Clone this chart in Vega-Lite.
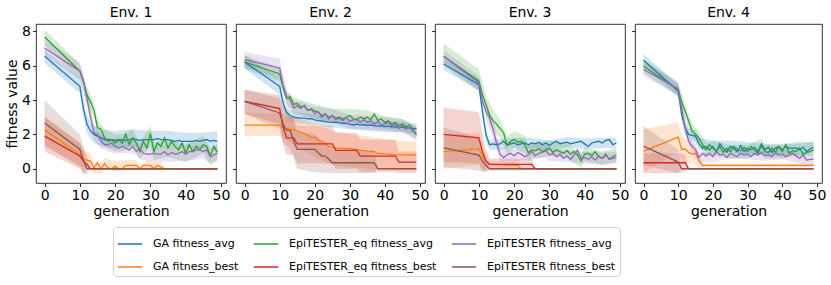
{
"$schema": "https://vega.github.io/schema/vega-lite/v6.json",
"padding": {"left": 5, "top": 5, "right": 5, "bottom": 5},
"bounds": "flush",
"datasets": {
"L": [
{"e":1,"s":"GAa","x":0,"y":6.55},{"e":1,"s":"GAa","x":10,"y":4.8},{"e":1,"s":"GAa","x":11,"y":3.5},{"e":1,"s":"GAa","x":12,"y":2.6},{"e":1,"s":"GAa","x":13,"y":2.2},{"e":1,"s":"GAa","x":14,"y":2.0},{"e":1,"s":"GAa","x":15,"y":1.9},{"e":1,"s":"GAa","x":16,"y":1.8},{"e":1,"s":"GAa","x":17,"y":1.7},{"e":1,"s":"GAa","x":18,"y":1.7},{"e":1,"s":"GAa","x":19,"y":1.7},{"e":1,"s":"GAa","x":20,"y":1.65},{"e":1,"s":"GAa","x":21,"y":1.7},{"e":1,"s":"GAa","x":22,"y":1.7},{"e":1,"s":"GAa","x":23,"y":1.65},{"e":1,"s":"GAa","x":24,"y":1.7},{"e":1,"s":"GAa","x":25,"y":1.75},{"e":1,"s":"GAa","x":26,"y":1.7},{"e":1,"s":"GAa","x":27,"y":1.65},{"e":1,"s":"GAa","x":28,"y":1.7},{"e":1,"s":"GAa","x":29,"y":1.7},{"e":1,"s":"GAa","x":30,"y":1.7},{"e":1,"s":"GAa","x":31,"y":1.7},{"e":1,"s":"GAa","x":32,"y":1.75},{"e":1,"s":"GAa","x":33,"y":1.7},{"e":1,"s":"GAa","x":34,"y":1.7},{"e":1,"s":"GAa","x":35,"y":1.7},{"e":1,"s":"GAa","x":36,"y":1.65},{"e":1,"s":"GAa","x":37,"y":1.6},{"e":1,"s":"GAa","x":38,"y":1.65},{"e":1,"s":"GAa","x":39,"y":1.6},{"e":1,"s":"GAa","x":40,"y":1.6},{"e":1,"s":"GAa","x":41,"y":1.6},{"e":1,"s":"GAa","x":42,"y":1.6},{"e":1,"s":"GAa","x":43,"y":1.65},{"e":1,"s":"GAa","x":44,"y":1.6},{"e":1,"s":"GAa","x":45,"y":1.65},{"e":1,"s":"GAa","x":46,"y":1.7},{"e":1,"s":"GAa","x":47,"y":1.6},{"e":1,"s":"GAa","x":48,"y":1.65},{"e":1,"s":"GAa","x":49,"y":1.6},
{"e":1,"s":"GAb","x":0,"y":2.25},{"e":1,"s":"GAb","x":10,"y":0.83},{"e":1,"s":"GAb","x":11,"y":0.55},{"e":1,"s":"GAb","x":12,"y":0.5},{"e":1,"s":"GAb","x":13,"y":0.45},{"e":1,"s":"GAb","x":14,"y":0.05},{"e":1,"s":"GAb","x":15,"y":0.35},{"e":1,"s":"GAb","x":16,"y":0},{"e":1,"s":"GAb","x":17,"y":0.3},{"e":1,"s":"GAb","x":18,"y":0.05},{"e":1,"s":"GAb","x":19,"y":0},{"e":1,"s":"GAb","x":20,"y":0.15},{"e":1,"s":"GAb","x":21,"y":0},{"e":1,"s":"GAb","x":22,"y":0},{"e":1,"s":"GAb","x":23,"y":0.2},{"e":1,"s":"GAb","x":26,"y":0.2},{"e":1,"s":"GAb","x":27,"y":0},{"e":1,"s":"GAb","x":28,"y":0.2},{"e":1,"s":"GAb","x":30,"y":0.2},{"e":1,"s":"GAb","x":31,"y":0},{"e":1,"s":"GAb","x":32,"y":0.2},{"e":1,"s":"GAb","x":33,"y":0.1},{"e":1,"s":"GAb","x":34,"y":0},{"e":1,"s":"GAb","x":49,"y":0},
{"e":1,"s":"EQa","x":0,"y":7.67},{"e":1,"s":"EQa","x":10,"y":5.68},{"e":1,"s":"EQa","x":11,"y":5.1},{"e":1,"s":"EQa","x":12,"y":4.3},{"e":1,"s":"EQa","x":13,"y":3.9},{"e":1,"s":"EQa","x":14,"y":3.4},{"e":1,"s":"EQa","x":15,"y":2.4},{"e":1,"s":"EQa","x":16,"y":2.3},{"e":1,"s":"EQa","x":17,"y":1.8},{"e":1,"s":"EQa","x":18,"y":1.6},{"e":1,"s":"EQa","x":19,"y":1.7},{"e":1,"s":"EQa","x":20,"y":1.5},{"e":1,"s":"EQa","x":21,"y":1.7},{"e":1,"s":"EQa","x":22,"y":1.5},{"e":1,"s":"EQa","x":23,"y":2.0},{"e":1,"s":"EQa","x":24,"y":1.4},{"e":1,"s":"EQa","x":25,"y":1.8},{"e":1,"s":"EQa","x":26,"y":1.5},{"e":1,"s":"EQa","x":27,"y":1.0},{"e":1,"s":"EQa","x":28,"y":1.6},{"e":1,"s":"EQa","x":29,"y":1.2},{"e":1,"s":"EQa","x":30,"y":2.05},{"e":1,"s":"EQa","x":31,"y":1.0},{"e":1,"s":"EQa","x":32,"y":1.5},{"e":1,"s":"EQa","x":33,"y":1.3},{"e":1,"s":"EQa","x":34,"y":1.8},{"e":1,"s":"EQa","x":35,"y":1.2},{"e":1,"s":"EQa","x":36,"y":1.6},{"e":1,"s":"EQa","x":37,"y":1.3},{"e":1,"s":"EQa","x":38,"y":1.1},{"e":1,"s":"EQa","x":39,"y":1.5},{"e":1,"s":"EQa","x":40,"y":0.9},{"e":1,"s":"EQa","x":41,"y":1.4},{"e":1,"s":"EQa","x":42,"y":1.0},{"e":1,"s":"EQa","x":43,"y":1.3},{"e":1,"s":"EQa","x":44,"y":1.1},{"e":1,"s":"EQa","x":45,"y":1.4},{"e":1,"s":"EQa","x":46,"y":1.3},{"e":1,"s":"EQa","x":47,"y":0.75},{"e":1,"s":"EQa","x":48,"y":1.3},{"e":1,"s":"EQa","x":49,"y":0.95},
{"e":1,"s":"EQb","x":0,"y":1.9},{"e":1,"s":"EQb","x":10,"y":0.74},{"e":1,"s":"EQb","x":11,"y":0.45},{"e":1,"s":"EQb","x":12,"y":0.25},{"e":1,"s":"EQb","x":13,"y":0},{"e":1,"s":"EQb","x":49,"y":0},
{"e":1,"s":"EPa","x":0,"y":7.03},{"e":1,"s":"EPa","x":10,"y":5.68},{"e":1,"s":"EPa","x":11,"y":5.1},{"e":1,"s":"EPa","x":12,"y":4.1},{"e":1,"s":"EPa","x":13,"y":3.05},{"e":1,"s":"EPa","x":14,"y":2.1},{"e":1,"s":"EPa","x":15,"y":2.0},{"e":1,"s":"EPa","x":16,"y":1.6},{"e":1,"s":"EPa","x":17,"y":1.4},{"e":1,"s":"EPa","x":18,"y":1.4},{"e":1,"s":"EPa","x":19,"y":1.5},{"e":1,"s":"EPa","x":20,"y":1.3},{"e":1,"s":"EPa","x":21,"y":1.2},{"e":1,"s":"EPa","x":22,"y":1.3},{"e":1,"s":"EPa","x":23,"y":1.2},{"e":1,"s":"EPa","x":24,"y":1.1},{"e":1,"s":"EPa","x":25,"y":1.3},{"e":1,"s":"EPa","x":26,"y":1.0},{"e":1,"s":"EPa","x":27,"y":1.2},{"e":1,"s":"EPa","x":28,"y":0.9},{"e":1,"s":"EPa","x":29,"y":0.85},{"e":1,"s":"EPa","x":30,"y":0.85},{"e":1,"s":"EPa","x":31,"y":0.9},{"e":1,"s":"EPa","x":32,"y":0.85},{"e":1,"s":"EPa","x":33,"y":0.85},{"e":1,"s":"EPa","x":34,"y":1.0},{"e":1,"s":"EPa","x":35,"y":0.8},{"e":1,"s":"EPa","x":36,"y":0.95},{"e":1,"s":"EPa","x":37,"y":0.85},{"e":1,"s":"EPa","x":38,"y":0.9},{"e":1,"s":"EPa","x":39,"y":1.0},{"e":1,"s":"EPa","x":40,"y":0.85},{"e":1,"s":"EPa","x":41,"y":1.0},{"e":1,"s":"EPa","x":42,"y":1.0},{"e":1,"s":"EPa","x":43,"y":1.1},{"e":1,"s":"EPa","x":44,"y":1.1},{"e":1,"s":"EPa","x":45,"y":1.0},{"e":1,"s":"EPa","x":46,"y":1.1},{"e":1,"s":"EPa","x":47,"y":0.7},{"e":1,"s":"EPa","x":48,"y":0.8},{"e":1,"s":"EPa","x":49,"y":0.9},
{"e":1,"s":"EPb","x":0,"y":2.67},{"e":1,"s":"EPb","x":10,"y":1.12},{"e":1,"s":"EPb","x":11,"y":0.5},{"e":1,"s":"EPb","x":12,"y":0},{"e":1,"s":"EPb","x":49,"y":0},

{"e":2,"s":"GAa","x":0,"y":6.22},{"e":2,"s":"GAa","x":10,"y":4.8},{"e":2,"s":"GAa","x":11,"y":3.8},{"e":2,"s":"GAa","x":12,"y":3.26},{"e":2,"s":"GAa","x":13,"y":3.1},{"e":2,"s":"GAa","x":14,"y":3.0},{"e":2,"s":"GAa","x":15,"y":2.97},{"e":2,"s":"GAa","x":16,"y":2.95},{"e":2,"s":"GAa","x":17,"y":2.95},{"e":2,"s":"GAa","x":18,"y":2.9},{"e":2,"s":"GAa","x":19,"y":2.92},{"e":2,"s":"GAa","x":20,"y":2.85},{"e":2,"s":"GAa","x":21,"y":2.8},{"e":2,"s":"GAa","x":22,"y":2.78},{"e":2,"s":"GAa","x":23,"y":2.75},{"e":2,"s":"GAa","x":24,"y":2.72},{"e":2,"s":"GAa","x":25,"y":2.7},{"e":2,"s":"GAa","x":26,"y":2.72},{"e":2,"s":"GAa","x":27,"y":2.68},{"e":2,"s":"GAa","x":28,"y":2.65},{"e":2,"s":"GAa","x":29,"y":2.66},{"e":2,"s":"GAa","x":30,"y":2.6},{"e":2,"s":"GAa","x":31,"y":2.55},{"e":2,"s":"GAa","x":32,"y":2.6},{"e":2,"s":"GAa","x":33,"y":2.55},{"e":2,"s":"GAa","x":34,"y":2.57},{"e":2,"s":"GAa","x":35,"y":2.52},{"e":2,"s":"GAa","x":36,"y":2.55},{"e":2,"s":"GAa","x":37,"y":2.5},{"e":2,"s":"GAa","x":38,"y":2.48},{"e":2,"s":"GAa","x":39,"y":2.5},{"e":2,"s":"GAa","x":40,"y":2.45},{"e":2,"s":"GAa","x":41,"y":2.48},{"e":2,"s":"GAa","x":42,"y":2.42},{"e":2,"s":"GAa","x":43,"y":2.45},{"e":2,"s":"GAa","x":44,"y":2.4},{"e":2,"s":"GAa","x":45,"y":2.43},{"e":2,"s":"GAa","x":46,"y":2.4},{"e":2,"s":"GAa","x":47,"y":2.38},{"e":2,"s":"GAa","x":48,"y":2.35},{"e":2,"s":"GAa","x":49,"y":2.33},
{"e":2,"s":"GAb","x":0,"y":2.54},{"e":2,"s":"GAb","x":10,"y":2.54},{"e":2,"s":"GAb","x":11,"y":2.38},{"e":2,"s":"GAb","x":12,"y":2.35},{"e":2,"s":"GAb","x":13,"y":2.3},{"e":2,"s":"GAb","x":14,"y":2.25},{"e":2,"s":"GAb","x":15,"y":2.2},{"e":2,"s":"GAb","x":16,"y":2.1},{"e":2,"s":"GAb","x":17,"y":2.05},{"e":2,"s":"GAb","x":18,"y":1.95},{"e":2,"s":"GAb","x":19,"y":1.8},{"e":2,"s":"GAb","x":20,"y":1.85},{"e":2,"s":"GAb","x":21,"y":1.65},{"e":2,"s":"GAb","x":22,"y":1.6},{"e":2,"s":"GAb","x":23,"y":1.5},{"e":2,"s":"GAb","x":24,"y":1.31},{"e":2,"s":"GAb","x":25,"y":1.25},{"e":2,"s":"GAb","x":26,"y":1.2},{"e":2,"s":"GAb","x":30,"y":1.18},{"e":2,"s":"GAb","x":35,"y":1.03},{"e":2,"s":"GAb","x":37,"y":1.0},{"e":2,"s":"GAb","x":38,"y":0.88},{"e":2,"s":"GAb","x":40,"y":0.88},{"e":2,"s":"GAb","x":42,"y":0.82},{"e":2,"s":"GAb","x":49,"y":0.8},
{"e":2,"s":"EQa","x":0,"y":6.22},{"e":2,"s":"EQa","x":10,"y":5.52},{"e":2,"s":"EQa","x":11,"y":4.7},{"e":2,"s":"EQa","x":12,"y":4.1},{"e":2,"s":"EQa","x":13,"y":4.2},{"e":2,"s":"EQa","x":14,"y":3.75},{"e":2,"s":"EQa","x":15,"y":3.8},{"e":2,"s":"EQa","x":16,"y":3.6},{"e":2,"s":"EQa","x":17,"y":3.65},{"e":2,"s":"EQa","x":18,"y":3.4},{"e":2,"s":"EQa","x":19,"y":3.5},{"e":2,"s":"EQa","x":20,"y":3.35},{"e":2,"s":"EQa","x":21,"y":3.3},{"e":2,"s":"EQa","x":22,"y":3.1},{"e":2,"s":"EQa","x":23,"y":3.2},{"e":2,"s":"EQa","x":24,"y":3.0},{"e":2,"s":"EQa","x":25,"y":3.1},{"e":2,"s":"EQa","x":26,"y":2.95},{"e":2,"s":"EQa","x":27,"y":3.0},{"e":2,"s":"EQa","x":28,"y":2.9},{"e":2,"s":"EQa","x":29,"y":3.0},{"e":2,"s":"EQa","x":30,"y":3.1},{"e":2,"s":"EQa","x":31,"y":2.9},{"e":2,"s":"EQa","x":32,"y":2.85},{"e":2,"s":"EQa","x":33,"y":3.0},{"e":2,"s":"EQa","x":34,"y":2.9},{"e":2,"s":"EQa","x":35,"y":3.0},{"e":2,"s":"EQa","x":36,"y":2.85},{"e":2,"s":"EQa","x":37,"y":3.2},{"e":2,"s":"EQa","x":38,"y":2.8},{"e":2,"s":"EQa","x":39,"y":2.9},{"e":2,"s":"EQa","x":40,"y":2.7},{"e":2,"s":"EQa","x":41,"y":2.8},{"e":2,"s":"EQa","x":42,"y":2.6},{"e":2,"s":"EQa","x":43,"y":2.7},{"e":2,"s":"EQa","x":44,"y":2.5},{"e":2,"s":"EQa","x":45,"y":2.6},{"e":2,"s":"EQa","x":46,"y":2.45},{"e":2,"s":"EQa","x":47,"y":2.55},{"e":2,"s":"EQa","x":48,"y":2.3},{"e":2,"s":"EQa","x":49,"y":1.95},
{"e":2,"s":"EQb","x":0,"y":3.93},{"e":2,"s":"EQb","x":10,"y":3.5},{"e":2,"s":"EQb","x":11,"y":2.4},{"e":2,"s":"EQb","x":12,"y":1.8},{"e":2,"s":"EQb","x":14,"y":1.8},{"e":2,"s":"EQb","x":15,"y":1.45},{"e":2,"s":"EQb","x":25,"y":1.45},{"e":2,"s":"EQb","x":26,"y":1.07},{"e":2,"s":"EQb","x":32,"y":1.07},{"e":2,"s":"EQb","x":33,"y":0.74},{"e":2,"s":"EQb","x":43,"y":0.74},{"e":2,"s":"EQb","x":44,"y":0.39},{"e":2,"s":"EQb","x":49,"y":0.39},
{"e":2,"s":"EPa","x":0,"y":6.36},{"e":2,"s":"EPa","x":10,"y":5.87},{"e":2,"s":"EPa","x":11,"y":4.8},{"e":2,"s":"EPa","x":12,"y":4.2},{"e":2,"s":"EPa","x":13,"y":4.0},{"e":2,"s":"EPa","x":14,"y":3.55},{"e":2,"s":"EPa","x":15,"y":3.65},{"e":2,"s":"EPa","x":16,"y":3.5},{"e":2,"s":"EPa","x":17,"y":3.7},{"e":2,"s":"EPa","x":18,"y":3.4},{"e":2,"s":"EPa","x":19,"y":3.45},{"e":2,"s":"EPa","x":20,"y":3.2},{"e":2,"s":"EPa","x":21,"y":3.3},{"e":2,"s":"EPa","x":22,"y":3.0},{"e":2,"s":"EPa","x":23,"y":3.2},{"e":2,"s":"EPa","x":24,"y":2.9},{"e":2,"s":"EPa","x":25,"y":3.1},{"e":2,"s":"EPa","x":26,"y":2.85},{"e":2,"s":"EPa","x":27,"y":2.95},{"e":2,"s":"EPa","x":28,"y":2.8},{"e":2,"s":"EPa","x":29,"y":3.0},{"e":2,"s":"EPa","x":30,"y":2.75},{"e":2,"s":"EPa","x":31,"y":2.85},{"e":2,"s":"EPa","x":32,"y":2.9},{"e":2,"s":"EPa","x":33,"y":2.7},{"e":2,"s":"EPa","x":34,"y":2.85},{"e":2,"s":"EPa","x":35,"y":2.7},{"e":2,"s":"EPa","x":36,"y":2.8},{"e":2,"s":"EPa","x":37,"y":2.6},{"e":2,"s":"EPa","x":38,"y":2.75},{"e":2,"s":"EPa","x":39,"y":2.55},{"e":2,"s":"EPa","x":40,"y":2.6},{"e":2,"s":"EPa","x":41,"y":2.7},{"e":2,"s":"EPa","x":42,"y":2.5},{"e":2,"s":"EPa","x":43,"y":2.6},{"e":2,"s":"EPa","x":44,"y":2.35},{"e":2,"s":"EPa","x":45,"y":2.5},{"e":2,"s":"EPa","x":46,"y":2.3},{"e":2,"s":"EPa","x":47,"y":2.4},{"e":2,"s":"EPa","x":48,"y":2.2},{"e":2,"s":"EPa","x":49,"y":2.05},
{"e":2,"s":"EPb","x":0,"y":3.93},{"e":2,"s":"EPb","x":10,"y":3.25},{"e":2,"s":"EPb","x":11,"y":2.6},{"e":2,"s":"EPb","x":12,"y":2.23},{"e":2,"s":"EPb","x":13,"y":2.23},{"e":2,"s":"EPb","x":14,"y":1.6},{"e":2,"s":"EPb","x":15,"y":1.13},{"e":2,"s":"EPb","x":20,"y":1.13},{"e":2,"s":"EPb","x":21,"y":0.93},{"e":2,"s":"EPb","x":22,"y":0.74},{"e":2,"s":"EPb","x":23,"y":0.74},{"e":2,"s":"EPb","x":24,"y":0.55},{"e":2,"s":"EPb","x":25,"y":0.35},{"e":2,"s":"EPb","x":37,"y":0.35},{"e":2,"s":"EPb","x":38,"y":0},{"e":2,"s":"EPb","x":49,"y":0},

{"e":3,"s":"GAa","x":0,"y":6.1},{"e":3,"s":"GAa","x":10,"y":4.9},{"e":3,"s":"GAa","x":11,"y":3.35},{"e":3,"s":"GAa","x":12,"y":2.0},{"e":3,"s":"GAa","x":13,"y":1.4},{"e":3,"s":"GAa","x":14,"y":1.45},{"e":3,"s":"GAa","x":15,"y":1.4},{"e":3,"s":"GAa","x":16,"y":1.45},{"e":3,"s":"GAa","x":17,"y":1.6},{"e":3,"s":"GAa","x":18,"y":1.4},{"e":3,"s":"GAa","x":19,"y":1.45},{"e":3,"s":"GAa","x":20,"y":1.5},{"e":3,"s":"GAa","x":21,"y":1.4},{"e":3,"s":"GAa","x":22,"y":1.45},{"e":3,"s":"GAa","x":23,"y":1.5},{"e":3,"s":"GAa","x":24,"y":1.4},{"e":3,"s":"GAa","x":25,"y":1.5},{"e":3,"s":"GAa","x":26,"y":1.45},{"e":3,"s":"GAa","x":27,"y":1.55},{"e":3,"s":"GAa","x":28,"y":1.4},{"e":3,"s":"GAa","x":29,"y":1.5},{"e":3,"s":"GAa","x":30,"y":1.35},{"e":3,"s":"GAa","x":31,"y":1.5},{"e":3,"s":"GAa","x":32,"y":1.6},{"e":3,"s":"GAa","x":33,"y":1.45},{"e":3,"s":"GAa","x":34,"y":1.5},{"e":3,"s":"GAa","x":35,"y":1.55},{"e":3,"s":"GAa","x":36,"y":1.45},{"e":3,"s":"GAa","x":37,"y":1.5},{"e":3,"s":"GAa","x":38,"y":1.55},{"e":3,"s":"GAa","x":39,"y":1.6},{"e":3,"s":"GAa","x":40,"y":1.45},{"e":3,"s":"GAa","x":41,"y":1.3},{"e":3,"s":"GAa","x":42,"y":1.5},{"e":3,"s":"GAa","x":43,"y":1.55},{"e":3,"s":"GAa","x":44,"y":1.6},{"e":3,"s":"GAa","x":45,"y":1.5},{"e":3,"s":"GAa","x":46,"y":1.65},{"e":3,"s":"GAa","x":47,"y":1.7},{"e":3,"s":"GAa","x":48,"y":1.4},{"e":3,"s":"GAa","x":49,"y":1.5},
{"e":3,"s":"GAb","x":0,"y":1.0},{"e":3,"s":"GAb","x":10,"y":1.16},{"e":3,"s":"GAb","x":11,"y":0.7},{"e":3,"s":"GAb","x":12,"y":0.45},{"e":3,"s":"GAb","x":13,"y":0.25},{"e":3,"s":"GAb","x":21,"y":0.2},{"e":3,"s":"GAb","x":22,"y":0},{"e":3,"s":"GAb","x":49,"y":0},
{"e":3,"s":"EQa","x":0,"y":6.55},{"e":3,"s":"EQa","x":10,"y":5.1},{"e":3,"s":"EQa","x":11,"y":4.3},{"e":3,"s":"EQa","x":12,"y":3.75},{"e":3,"s":"EQa","x":13,"y":3.15},{"e":3,"s":"EQa","x":14,"y":2.8},{"e":3,"s":"EQa","x":15,"y":2.6},{"e":3,"s":"EQa","x":16,"y":2.35},{"e":3,"s":"EQa","x":17,"y":2.1},{"e":3,"s":"EQa","x":18,"y":1.35},{"e":3,"s":"EQa","x":19,"y":1.6},{"e":3,"s":"EQa","x":20,"y":1.7},{"e":3,"s":"EQa","x":21,"y":1.55},{"e":3,"s":"EQa","x":22,"y":1.6},{"e":3,"s":"EQa","x":23,"y":1.4},{"e":3,"s":"EQa","x":24,"y":0.95},{"e":3,"s":"EQa","x":25,"y":1.1},{"e":3,"s":"EQa","x":26,"y":1.05},{"e":3,"s":"EQa","x":27,"y":1.15},{"e":3,"s":"EQa","x":28,"y":1.0},{"e":3,"s":"EQa","x":29,"y":1.1},{"e":3,"s":"EQa","x":30,"y":1.2},{"e":3,"s":"EQa","x":31,"y":0.95},{"e":3,"s":"EQa","x":32,"y":1.1},{"e":3,"s":"EQa","x":33,"y":1.0},{"e":3,"s":"EQa","x":34,"y":0.9},{"e":3,"s":"EQa","x":35,"y":1.05},{"e":3,"s":"EQa","x":36,"y":0.85},{"e":3,"s":"EQa","x":37,"y":1.0},{"e":3,"s":"EQa","x":38,"y":0.8},{"e":3,"s":"EQa","x":39,"y":0.45},{"e":3,"s":"EQa","x":40,"y":0.85},{"e":3,"s":"EQa","x":41,"y":0.9},{"e":3,"s":"EQa","x":42,"y":0.75},{"e":3,"s":"EQa","x":43,"y":1.0},{"e":3,"s":"EQa","x":44,"y":0.7},{"e":3,"s":"EQa","x":45,"y":0.6},{"e":3,"s":"EQa","x":46,"y":0.85},{"e":3,"s":"EQa","x":47,"y":0.55},{"e":3,"s":"EQa","x":48,"y":0.7},{"e":3,"s":"EQa","x":49,"y":0.8},
{"e":3,"s":"EQb","x":0,"y":2.0},{"e":3,"s":"EQb","x":10,"y":1.8},{"e":3,"s":"EQb","x":11,"y":1.0},{"e":3,"s":"EQb","x":12,"y":0.45},{"e":3,"s":"EQb","x":13,"y":0.25},{"e":3,"s":"EQb","x":25,"y":0.25},{"e":3,"s":"EQb","x":26,"y":0},{"e":3,"s":"EQb","x":49,"y":0},
{"e":3,"s":"EPa","x":0,"y":6.55},{"e":3,"s":"EPa","x":10,"y":5.0},{"e":3,"s":"EPa","x":11,"y":3.93},{"e":3,"s":"EPa","x":12,"y":3.35},{"e":3,"s":"EPa","x":13,"y":2.97},{"e":3,"s":"EPa","x":14,"y":2.3},{"e":3,"s":"EPa","x":15,"y":1.5},{"e":3,"s":"EPa","x":16,"y":0.85},{"e":3,"s":"EPa","x":17,"y":0.65},{"e":3,"s":"EPa","x":18,"y":0.8},{"e":3,"s":"EPa","x":19,"y":0.9},{"e":3,"s":"EPa","x":20,"y":0.75},{"e":3,"s":"EPa","x":21,"y":0.95},{"e":3,"s":"EPa","x":22,"y":0.85},{"e":3,"s":"EPa","x":23,"y":0.7},{"e":3,"s":"EPa","x":24,"y":0.8},{"e":3,"s":"EPa","x":25,"y":1.0},{"e":3,"s":"EPa","x":26,"y":0.75},{"e":3,"s":"EPa","x":27,"y":0.9},{"e":3,"s":"EPa","x":28,"y":0.95},{"e":3,"s":"EPa","x":29,"y":1.05},{"e":3,"s":"EPa","x":30,"y":0.8},{"e":3,"s":"EPa","x":31,"y":0.9},{"e":3,"s":"EPa","x":32,"y":0.7},{"e":3,"s":"EPa","x":33,"y":0.85},{"e":3,"s":"EPa","x":34,"y":0.6},{"e":3,"s":"EPa","x":35,"y":0.75},{"e":3,"s":"EPa","x":36,"y":0.55},{"e":3,"s":"EPa","x":37,"y":0.8},{"e":3,"s":"EPa","x":38,"y":1.1},{"e":3,"s":"EPa","x":39,"y":0.6},{"e":3,"s":"EPa","x":40,"y":0.65},{"e":3,"s":"EPa","x":41,"y":0.55},{"e":3,"s":"EPa","x":42,"y":0.7},{"e":3,"s":"EPa","x":43,"y":0.5},{"e":3,"s":"EPa","x":44,"y":0.75},{"e":3,"s":"EPa","x":45,"y":0.6},{"e":3,"s":"EPa","x":46,"y":0.8},{"e":3,"s":"EPa","x":47,"y":0.55},{"e":3,"s":"EPa","x":48,"y":0.6},{"e":3,"s":"EPa","x":49,"y":0.65},
{"e":3,"s":"EPb","x":0,"y":1.22},{"e":3,"s":"EPb","x":10,"y":0.8},{"e":3,"s":"EPb","x":11,"y":0.45},{"e":3,"s":"EPb","x":12,"y":0.2},{"e":3,"s":"EPb","x":13,"y":0},{"e":3,"s":"EPb","x":49,"y":0},

{"e":4,"s":"GAa","x":0,"y":6.32},{"e":4,"s":"GAa","x":10,"y":4.52},{"e":4,"s":"GAa","x":11,"y":3.16},{"e":4,"s":"GAa","x":12,"y":2.38},{"e":4,"s":"GAa","x":13,"y":2.0},{"e":4,"s":"GAa","x":14,"y":1.95},{"e":4,"s":"GAa","x":15,"y":1.9},{"e":4,"s":"GAa","x":16,"y":1.45},{"e":4,"s":"GAa","x":17,"y":1.2},{"e":4,"s":"GAa","x":18,"y":1.3},{"e":4,"s":"GAa","x":19,"y":1.1},{"e":4,"s":"GAa","x":20,"y":1.3},{"e":4,"s":"GAa","x":21,"y":1.0},{"e":4,"s":"GAa","x":22,"y":1.45},{"e":4,"s":"GAa","x":23,"y":1.2},{"e":4,"s":"GAa","x":24,"y":0.95},{"e":4,"s":"GAa","x":25,"y":1.3},{"e":4,"s":"GAa","x":26,"y":1.2},{"e":4,"s":"GAa","x":27,"y":1.0},{"e":4,"s":"GAa","x":28,"y":1.35},{"e":4,"s":"GAa","x":29,"y":1.0},{"e":4,"s":"GAa","x":30,"y":1.2},{"e":4,"s":"GAa","x":31,"y":1.1},{"e":4,"s":"GAa","x":32,"y":1.25},{"e":4,"s":"GAa","x":33,"y":1.0},{"e":4,"s":"GAa","x":34,"y":1.45},{"e":4,"s":"GAa","x":35,"y":1.1},{"e":4,"s":"GAa","x":36,"y":1.25},{"e":4,"s":"GAa","x":37,"y":0.95},{"e":4,"s":"GAa","x":38,"y":1.2},{"e":4,"s":"GAa","x":39,"y":1.3},{"e":4,"s":"GAa","x":40,"y":1.1},{"e":4,"s":"GAa","x":41,"y":1.3},{"e":4,"s":"GAa","x":42,"y":1.2},{"e":4,"s":"GAa","x":43,"y":1.2},{"e":4,"s":"GAa","x":44,"y":1.2},{"e":4,"s":"GAa","x":45,"y":1.1},{"e":4,"s":"GAa","x":46,"y":1.25},{"e":4,"s":"GAa","x":47,"y":1.0},{"e":4,"s":"GAa","x":48,"y":1.15},{"e":4,"s":"GAa","x":49,"y":1.25},
{"e":4,"s":"GAb","x":0,"y":1.03},{"e":4,"s":"GAb","x":10,"y":1.84},{"e":4,"s":"GAb","x":11,"y":1.12},{"e":4,"s":"GAb","x":12,"y":1.15},{"e":4,"s":"GAb","x":13,"y":0.95},{"e":4,"s":"GAb","x":14,"y":0.85},{"e":4,"s":"GAb","x":15,"y":0.9},{"e":4,"s":"GAb","x":16,"y":0.45},{"e":4,"s":"GAb","x":17,"y":0.2},{"e":4,"s":"GAb","x":49,"y":0.2},
{"e":4,"s":"EQa","x":0,"y":5.97},{"e":4,"s":"EQa","x":10,"y":4.61},{"e":4,"s":"EQa","x":11,"y":3.9},{"e":4,"s":"EQa","x":12,"y":3.35},{"e":4,"s":"EQa","x":13,"y":2.8},{"e":4,"s":"EQa","x":14,"y":2.2},{"e":4,"s":"EQa","x":15,"y":2.0},{"e":4,"s":"EQa","x":16,"y":1.8},{"e":4,"s":"EQa","x":17,"y":1.4},{"e":4,"s":"EQa","x":18,"y":1.1},{"e":4,"s":"EQa","x":19,"y":1.4},{"e":4,"s":"EQa","x":20,"y":1.2},{"e":4,"s":"EQa","x":21,"y":1.0},{"e":4,"s":"EQa","x":22,"y":1.3},{"e":4,"s":"EQa","x":23,"y":0.95},{"e":4,"s":"EQa","x":24,"y":1.2},{"e":4,"s":"EQa","x":25,"y":1.0},{"e":4,"s":"EQa","x":26,"y":1.3},{"e":4,"s":"EQa","x":27,"y":1.15},{"e":4,"s":"EQa","x":28,"y":1.05},{"e":4,"s":"EQa","x":29,"y":1.25},{"e":4,"s":"EQa","x":30,"y":1.0},{"e":4,"s":"EQa","x":31,"y":1.3},{"e":4,"s":"EQa","x":32,"y":1.1},{"e":4,"s":"EQa","x":33,"y":0.9},{"e":4,"s":"EQa","x":34,"y":1.35},{"e":4,"s":"EQa","x":35,"y":1.0},{"e":4,"s":"EQa","x":36,"y":0.95},{"e":4,"s":"EQa","x":37,"y":1.2},{"e":4,"s":"EQa","x":38,"y":0.95},{"e":4,"s":"EQa","x":39,"y":1.3},{"e":4,"s":"EQa","x":40,"y":1.0},{"e":4,"s":"EQa","x":41,"y":1.4},{"e":4,"s":"EQa","x":42,"y":0.9},{"e":4,"s":"EQa","x":43,"y":1.05},{"e":4,"s":"EQa","x":44,"y":1.0},{"e":4,"s":"EQa","x":45,"y":1.2},{"e":4,"s":"EQa","x":46,"y":0.85},{"e":4,"s":"EQa","x":47,"y":0.95},{"e":4,"s":"EQa","x":48,"y":1.0},{"e":4,"s":"EQa","x":49,"y":1.1},
{"e":4,"s":"EQb","x":0,"y":0.35},{"e":4,"s":"EQb","x":10,"y":0.35},{"e":4,"s":"EQb","x":12,"y":0.35},{"e":4,"s":"EQb","x":13,"y":0},{"e":4,"s":"EQb","x":49,"y":0},
{"e":4,"s":"EPa","x":0,"y":5.78},{"e":4,"s":"EPa","x":10,"y":4.67},{"e":4,"s":"EPa","x":11,"y":3.55},{"e":4,"s":"EPa","x":12,"y":2.38},{"e":4,"s":"EPa","x":13,"y":1.6},{"e":4,"s":"EPa","x":14,"y":1.3},{"e":4,"s":"EPa","x":15,"y":1.1},{"e":4,"s":"EPa","x":16,"y":0.65},{"e":4,"s":"EPa","x":17,"y":0.9},{"e":4,"s":"EPa","x":18,"y":0.75},{"e":4,"s":"EPa","x":19,"y":0.9},{"e":4,"s":"EPa","x":20,"y":0.7},{"e":4,"s":"EPa","x":21,"y":1.0},{"e":4,"s":"EPa","x":22,"y":0.8},{"e":4,"s":"EPa","x":23,"y":0.85},{"e":4,"s":"EPa","x":24,"y":0.65},{"e":4,"s":"EPa","x":25,"y":0.9},{"e":4,"s":"EPa","x":26,"y":0.8},{"e":4,"s":"EPa","x":27,"y":0.7},{"e":4,"s":"EPa","x":28,"y":0.9},{"e":4,"s":"EPa","x":29,"y":0.8},{"e":4,"s":"EPa","x":30,"y":0.85},{"e":4,"s":"EPa","x":31,"y":0.7},{"e":4,"s":"EPa","x":32,"y":0.9},{"e":4,"s":"EPa","x":33,"y":0.8},{"e":4,"s":"EPa","x":34,"y":0.95},{"e":4,"s":"EPa","x":35,"y":0.75},{"e":4,"s":"EPa","x":36,"y":0.8},{"e":4,"s":"EPa","x":37,"y":0.7},{"e":4,"s":"EPa","x":38,"y":0.95},{"e":4,"s":"EPa","x":39,"y":0.8},{"e":4,"s":"EPa","x":40,"y":0.85},{"e":4,"s":"EPa","x":41,"y":0.7},{"e":4,"s":"EPa","x":42,"y":0.8},{"e":4,"s":"EPa","x":43,"y":0.9},{"e":4,"s":"EPa","x":44,"y":0.75},{"e":4,"s":"EPa","x":45,"y":0.6},{"e":4,"s":"EPa","x":46,"y":0.8},{"e":4,"s":"EPa","x":47,"y":0.5},{"e":4,"s":"EPa","x":48,"y":0.55},{"e":4,"s":"EPa","x":49,"y":0.55},
{"e":4,"s":"EPb","x":0,"y":1.32},{"e":4,"s":"EPb","x":10,"y":0.39},{"e":4,"s":"EPb","x":11,"y":0},{"e":4,"s":"EPb","x":49,"y":0}
],
"B": [
{"e":1,"s":"GAa","x":0,"l":6.15,"h":6.95},{"e":1,"s":"GAa","x":10,"l":4.4,"h":5.3},{"e":1,"s":"GAa","x":11,"l":3.0,"h":4.0},{"e":1,"s":"GAa","x":12,"l":2.1,"h":3.1},{"e":1,"s":"GAa","x":13,"l":1.7,"h":2.7},{"e":1,"s":"GAa","x":14,"l":1.5,"h":2.5},{"e":1,"s":"GAa","x":16,"l":1.3,"h":2.3},{"e":1,"s":"GAa","x":20,"l":1.2,"h":2.2},{"e":1,"s":"GAa","x":25,"l":1.3,"h":2.3},{"e":1,"s":"GAa","x":30,"l":1.2,"h":2.2},{"e":1,"s":"GAa","x":35,"l":1.2,"h":2.2},{"e":1,"s":"GAa","x":40,"l":1.2,"h":2.1},{"e":1,"s":"GAa","x":45,"l":1.2,"h":2.1},{"e":1,"s":"GAa","x":49,"l":1.1,"h":2.2},
{"e":1,"s":"GAb","x":0,"l":1.4,"h":3.1},{"e":1,"s":"GAb","x":10,"l":0.1,"h":1.5},{"e":1,"s":"GAb","x":11,"l":0.1,"h":1.0},{"e":1,"s":"GAb","x":13,"l":0.0,"h":0.9},{"e":1,"s":"GAb","x":14,"l":-0.3,"h":0.4},{"e":1,"s":"GAb","x":16,"l":-0.3,"h":0.3},{"e":1,"s":"GAb","x":17,"l":0.0,"h":0.6},{"e":1,"s":"GAb","x":20,"l":-0.15,"h":0.45},{"e":1,"s":"GAb","x":23,"l":-0.1,"h":0.5},{"e":1,"s":"GAb","x":26,"l":-0.1,"h":0.5},{"e":1,"s":"GAb","x":27,"l":-0.1,"h":0.1},{"e":1,"s":"GAb","x":29,"l":-0.1,"h":0.5},{"e":1,"s":"GAb","x":33,"l":-0.1,"h":0.4},{"e":1,"s":"GAb","x":34,"l":0,"h":0},{"e":1,"s":"GAb","x":49,"l":0,"h":0},
{"e":1,"s":"EQa","x":0,"l":7.2,"h":8.1},{"e":1,"s":"EQa","x":10,"l":5.2,"h":6.1},{"e":1,"s":"EQa","x":12,"l":3.8,"h":4.8},{"e":1,"s":"EQa","x":14,"l":2.9,"h":3.9},{"e":1,"s":"EQa","x":15,"l":1.9,"h":2.9},{"e":1,"s":"EQa","x":17,"l":1.3,"h":2.3},{"e":1,"s":"EQa","x":20,"l":1.0,"h":2.0},{"e":1,"s":"EQa","x":22,"l":1.0,"h":2.0},{"e":1,"s":"EQa","x":25,"l":1.3,"h":2.3},{"e":1,"s":"EQa","x":27,"l":0.5,"h":1.5},{"e":1,"s":"EQa","x":30,"l":1.4,"h":2.5},{"e":1,"s":"EQa","x":31,"l":0.5,"h":1.5},{"e":1,"s":"EQa","x":35,"l":0.7,"h":1.7},{"e":1,"s":"EQa","x":40,"l":0.4,"h":1.4},{"e":1,"s":"EQa","x":45,"l":0.9,"h":1.9},{"e":1,"s":"EQa","x":47,"l":0.2,"h":1.2},{"e":1,"s":"EQa","x":49,"l":0.45,"h":1.45},
{"e":1,"s":"EQb","x":0,"l":1.0,"h":3.0},{"e":1,"s":"EQb","x":10,"l":0.0,"h":1.5},{"e":1,"s":"EQb","x":11,"l":-0.3,"h":1.2},{"e":1,"s":"EQb","x":12,"l":-0.3,"h":0.8},{"e":1,"s":"EQb","x":13,"l":0,"h":0},{"e":1,"s":"EQb","x":49,"l":0,"h":0},
{"e":1,"s":"EPa","x":0,"l":6.6,"h":7.5},{"e":1,"s":"EPa","x":10,"l":5.2,"h":6.2},{"e":1,"s":"EPa","x":12,"l":3.6,"h":4.6},{"e":1,"s":"EPa","x":14,"l":1.7,"h":2.5},{"e":1,"s":"EPa","x":16,"l":1.2,"h":2.0},{"e":1,"s":"EPa","x":18,"l":1.0,"h":1.8},{"e":1,"s":"EPa","x":20,"l":0.9,"h":1.7},{"e":1,"s":"EPa","x":25,"l":0.9,"h":1.7},{"e":1,"s":"EPa","x":28,"l":0.5,"h":1.3},{"e":1,"s":"EPa","x":30,"l":0.45,"h":1.25},{"e":1,"s":"EPa","x":35,"l":0.4,"h":1.2},{"e":1,"s":"EPa","x":40,"l":0.45,"h":1.25},{"e":1,"s":"EPa","x":45,"l":0.6,"h":1.4},{"e":1,"s":"EPa","x":47,"l":0.3,"h":1.1},{"e":1,"s":"EPa","x":49,"l":0.5,"h":1.3},
{"e":1,"s":"EPb","x":0,"l":1.3,"h":4.0},{"e":1,"s":"EPb","x":10,"l":0.2,"h":2.0},{"e":1,"s":"EPb","x":11,"l":-0.3,"h":1.3},{"e":1,"s":"EPb","x":12,"l":0,"h":0},{"e":1,"s":"EPb","x":49,"l":0,"h":0},

{"e":2,"s":"GAa","x":0,"l":5.85,"h":6.6},{"e":2,"s":"GAa","x":10,"l":4.3,"h":5.3},{"e":2,"s":"GAa","x":11,"l":3.5,"h":4.2},{"e":2,"s":"GAa","x":12,"l":2.95,"h":3.6},{"e":2,"s":"GAa","x":13,"l":2.8,"h":3.4},{"e":2,"s":"GAa","x":15,"l":2.65,"h":3.3},{"e":2,"s":"GAa","x":20,"l":2.55,"h":3.15},{"e":2,"s":"GAa","x":25,"l":2.4,"h":3.0},{"e":2,"s":"GAa","x":30,"l":2.3,"h":2.9},{"e":2,"s":"GAa","x":35,"l":2.22,"h":2.82},{"e":2,"s":"GAa","x":40,"l":2.15,"h":2.75},{"e":2,"s":"GAa","x":45,"l":2.12,"h":2.72},{"e":2,"s":"GAa","x":49,"l":2.03,"h":2.63},
{"e":2,"s":"GAb","x":0,"l":1.9,"h":3.25},{"e":2,"s":"GAb","x":10,"l":1.9,"h":3.2},{"e":2,"s":"GAb","x":12,"l":1.6,"h":3.1},{"e":2,"s":"GAb","x":15,"l":1.3,"h":3.0},{"e":2,"s":"GAb","x":20,"l":0.7,"h":2.6},{"e":2,"s":"GAb","x":25,"l":0.2,"h":2.2},{"e":2,"s":"GAb","x":30,"l":0.1,"h":2.0},{"e":2,"s":"GAb","x":35,"l":0.0,"h":1.9},{"e":2,"s":"GAb","x":40,"l":-0.1,"h":1.7},{"e":2,"s":"GAb","x":45,"l":-0.1,"h":1.6},{"e":2,"s":"GAb","x":49,"l":-0.1,"h":1.6},
{"e":2,"s":"EQa","x":0,"l":5.8,"h":6.6},{"e":2,"s":"EQa","x":10,"l":5.1,"h":5.9},{"e":2,"s":"EQa","x":12,"l":3.7,"h":4.5},{"e":2,"s":"EQa","x":14,"l":3.35,"h":4.15},{"e":2,"s":"EQa","x":16,"l":3.2,"h":4.0},{"e":2,"s":"EQa","x":20,"l":2.95,"h":3.75},{"e":2,"s":"EQa","x":25,"l":2.7,"h":3.5},{"e":2,"s":"EQa","x":30,"l":2.7,"h":3.5},{"e":2,"s":"EQa","x":35,"l":2.6,"h":3.4},{"e":2,"s":"EQa","x":40,"l":2.35,"h":3.05},{"e":2,"s":"EQa","x":45,"l":2.2,"h":2.9},{"e":2,"s":"EQa","x":49,"l":1.75,"h":2.45},
{"e":2,"s":"EQb","x":0,"l":3.2,"h":4.6},{"e":2,"s":"EQb","x":10,"l":2.6,"h":4.3},{"e":2,"s":"EQb","x":11,"l":1.4,"h":3.4},{"e":2,"s":"EQb","x":12,"l":0.8,"h":3.0},{"e":2,"s":"EQb","x":14,"l":0.8,"h":3.0},{"e":2,"s":"EQb","x":15,"l":0.3,"h":2.5},{"e":2,"s":"EQb","x":25,"l":0.3,"h":2.5},{"e":2,"s":"EQb","x":26,"l":0.0,"h":2.1},{"e":2,"s":"EQb","x":32,"l":0.0,"h":2.1},{"e":2,"s":"EQb","x":33,"l":-0.2,"h":1.7},{"e":2,"s":"EQb","x":43,"l":-0.2,"h":1.7},{"e":2,"s":"EQb","x":44,"l":-0.25,"h":1.0},{"e":2,"s":"EQb","x":49,"l":-0.25,"h":1.0},
{"e":2,"s":"EPa","x":0,"l":5.9,"h":6.8},{"e":2,"s":"EPa","x":10,"l":5.3,"h":6.4},{"e":2,"s":"EPa","x":12,"l":3.7,"h":4.6},{"e":2,"s":"EPa","x":14,"l":3.15,"h":3.95},{"e":2,"s":"EPa","x":16,"l":3.1,"h":3.9},{"e":2,"s":"EPa","x":20,"l":2.8,"h":3.6},{"e":2,"s":"EPa","x":25,"l":2.7,"h":3.5},{"e":2,"s":"EPa","x":30,"l":2.35,"h":3.15},{"e":2,"s":"EPa","x":35,"l":2.3,"h":3.1},{"e":2,"s":"EPa","x":40,"l":2.2,"h":3.0},{"e":2,"s":"EPa","x":45,"l":2.1,"h":2.9},{"e":2,"s":"EPa","x":49,"l":1.65,"h":2.45},
{"e":2,"s":"EPb","x":0,"l":3.2,"h":4.6},{"e":2,"s":"EPb","x":10,"l":2.3,"h":4.1},{"e":2,"s":"EPb","x":11,"l":1.5,"h":3.6},{"e":2,"s":"EPb","x":13,"l":1.2,"h":3.2},{"e":2,"s":"EPb","x":15,"l":0.0,"h":2.2},{"e":2,"s":"EPb","x":20,"l":-0.2,"h":2.0},{"e":2,"s":"EPb","x":25,"l":-0.25,"h":1.1},{"e":2,"s":"EPb","x":37,"l":-0.25,"h":1.0},{"e":2,"s":"EPb","x":38,"l":0,"h":0},{"e":2,"s":"EPb","x":49,"l":0,"h":0},

{"e":3,"s":"GAa","x":0,"l":5.75,"h":6.45},{"e":3,"s":"GAa","x":10,"l":4.55,"h":5.25},{"e":3,"s":"GAa","x":11,"l":2.9,"h":3.8},{"e":3,"s":"GAa","x":12,"l":1.6,"h":2.4},{"e":3,"s":"GAa","x":13,"l":1.1,"h":1.7},{"e":3,"s":"GAa","x":15,"l":1.1,"h":1.7},{"e":3,"s":"GAa","x":20,"l":1.2,"h":1.8},{"e":3,"s":"GAa","x":25,"l":1.2,"h":1.8},{"e":3,"s":"GAa","x":30,"l":1.05,"h":1.65},{"e":3,"s":"GAa","x":35,"l":1.25,"h":1.85},{"e":3,"s":"GAa","x":40,"l":1.15,"h":1.75},{"e":3,"s":"GAa","x":45,"l":1.2,"h":1.8},{"e":3,"s":"GAa","x":49,"l":1.2,"h":1.8},
{"e":3,"s":"GAb","x":0,"l":0.0,"h":2.0},{"e":3,"s":"GAb","x":10,"l":0.2,"h":2.1},{"e":3,"s":"GAb","x":11,"l":-0.1,"h":1.5},{"e":3,"s":"GAb","x":12,"l":0.0,"h":0.9},{"e":3,"s":"GAb","x":13,"l":0.05,"h":0.45},{"e":3,"s":"GAb","x":21,"l":0.0,"h":0.4},{"e":3,"s":"GAb","x":22,"l":0,"h":0},{"e":3,"s":"GAb","x":49,"l":0,"h":0},
{"e":3,"s":"EQa","x":0,"l":6.0,"h":7.3},{"e":3,"s":"EQa","x":10,"l":4.5,"h":5.8},{"e":3,"s":"EQa","x":12,"l":3.2,"h":4.3},{"e":3,"s":"EQa","x":14,"l":2.2,"h":3.4},{"e":3,"s":"EQa","x":16,"l":1.8,"h":2.9},{"e":3,"s":"EQa","x":18,"l":0.8,"h":1.9},{"e":3,"s":"EQa","x":20,"l":1.2,"h":2.2},{"e":3,"s":"EQa","x":23,"l":0.9,"h":1.9},{"e":3,"s":"EQa","x":24,"l":0.5,"h":1.4},{"e":3,"s":"EQa","x":30,"l":0.75,"h":1.65},{"e":3,"s":"EQa","x":35,"l":0.6,"h":1.5},{"e":3,"s":"EQa","x":39,"l":0.05,"h":0.85},{"e":3,"s":"EQa","x":40,"l":0.45,"h":1.25},{"e":3,"s":"EQa","x":45,"l":0.2,"h":1.0},{"e":3,"s":"EQa","x":49,"l":0.4,"h":1.2},
{"e":3,"s":"EQb","x":0,"l":0.4,"h":3.55},{"e":3,"s":"EQb","x":10,"l":0.3,"h":3.3},{"e":3,"s":"EQb","x":11,"l":-0.1,"h":2.1},{"e":3,"s":"EQb","x":12,"l":-0.2,"h":1.1},{"e":3,"s":"EQb","x":13,"l":-0.1,"h":0.6},{"e":3,"s":"EQb","x":25,"l":-0.1,"h":0.6},{"e":3,"s":"EQb","x":26,"l":0,"h":0},{"e":3,"s":"EQb","x":49,"l":0,"h":0},
{"e":3,"s":"EPa","x":0,"l":6.2,"h":6.9},{"e":3,"s":"EPa","x":10,"l":4.6,"h":5.4},{"e":3,"s":"EPa","x":12,"l":2.9,"h":3.8},{"e":3,"s":"EPa","x":14,"l":1.8,"h":2.8},{"e":3,"s":"EPa","x":16,"l":0.45,"h":1.25},{"e":3,"s":"EPa","x":20,"l":0.4,"h":1.1},{"e":3,"s":"EPa","x":25,"l":0.6,"h":1.4},{"e":3,"s":"EPa","x":29,"l":0.65,"h":1.45},{"e":3,"s":"EPa","x":30,"l":0.45,"h":1.15},{"e":3,"s":"EPa","x":35,"l":0.4,"h":1.1},{"e":3,"s":"EPa","x":40,"l":0.3,"h":1.0},{"e":3,"s":"EPa","x":45,"l":0.25,"h":0.95},{"e":3,"s":"EPa","x":49,"l":0.3,"h":1.0},
{"e":3,"s":"EPb","x":0,"l":0.1,"h":2.4},{"e":3,"s":"EPb","x":10,"l":-0.1,"h":1.8},{"e":3,"s":"EPb","x":11,"l":-0.2,"h":1.1},{"e":3,"s":"EPb","x":12,"l":-0.1,"h":0.5},{"e":3,"s":"EPb","x":13,"l":0,"h":0},{"e":3,"s":"EPb","x":49,"l":0,"h":0},

{"e":4,"s":"GAa","x":0,"l":6.0,"h":6.7},{"e":4,"s":"GAa","x":10,"l":4.2,"h":4.9},{"e":4,"s":"GAa","x":11,"l":2.8,"h":3.5},{"e":4,"s":"GAa","x":12,"l":2.0,"h":2.75},{"e":4,"s":"GAa","x":13,"l":1.65,"h":2.35},{"e":4,"s":"GAa","x":15,"l":1.55,"h":2.25},{"e":4,"s":"GAa","x":16,"l":1.1,"h":1.8},{"e":4,"s":"GAa","x":20,"l":0.95,"h":1.65},{"e":4,"s":"GAa","x":25,"l":0.95,"h":1.65},{"e":4,"s":"GAa","x":30,"l":0.85,"h":1.55},{"e":4,"s":"GAa","x":35,"l":0.75,"h":1.45},{"e":4,"s":"GAa","x":40,"l":0.75,"h":1.45},{"e":4,"s":"GAa","x":45,"l":0.75,"h":1.45},{"e":4,"s":"GAa","x":49,"l":0.9,"h":1.6},
{"e":4,"s":"GAb","x":0,"l":-0.2,"h":2.3},{"e":4,"s":"GAb","x":10,"l":1.0,"h":2.7},{"e":4,"s":"GAb","x":11,"l":0.4,"h":1.9},{"e":4,"s":"GAb","x":13,"l":0.3,"h":1.6},{"e":4,"s":"GAb","x":15,"l":0.3,"h":1.5},{"e":4,"s":"GAb","x":16,"l":0.0,"h":0.9},{"e":4,"s":"GAb","x":17,"l":0.1,"h":0.3},{"e":4,"s":"GAb","x":49,"l":0.1,"h":0.3},
{"e":4,"s":"EQa","x":0,"l":5.6,"h":6.4},{"e":4,"s":"EQa","x":10,"l":4.2,"h":5.0},{"e":4,"s":"EQa","x":12,"l":2.9,"h":3.8},{"e":4,"s":"EQa","x":14,"l":1.8,"h":2.6},{"e":4,"s":"EQa","x":16,"l":1.4,"h":2.2},{"e":4,"s":"EQa","x":18,"l":0.7,"h":1.5},{"e":4,"s":"EQa","x":20,"l":0.8,"h":1.6},{"e":4,"s":"EQa","x":25,"l":0.6,"h":1.4},{"e":4,"s":"EQa","x":30,"l":0.6,"h":1.4},{"e":4,"s":"EQa","x":34,"l":0.95,"h":1.75},{"e":4,"s":"EQa","x":35,"l":0.6,"h":1.4},{"e":4,"s":"EQa","x":40,"l":0.6,"h":1.4},{"e":4,"s":"EQa","x":45,"l":0.8,"h":1.6},{"e":4,"s":"EQa","x":49,"l":0.7,"h":1.5},
{"e":4,"s":"EQb","x":0,"l":-0.25,"h":0.9},{"e":4,"s":"EQb","x":10,"l":-0.25,"h":0.9},{"e":4,"s":"EQb","x":12,"l":-0.2,"h":0.8},{"e":4,"s":"EQb","x":13,"l":0,"h":0},{"e":4,"s":"EQb","x":49,"l":0,"h":0},
{"e":4,"s":"EPa","x":0,"l":5.4,"h":6.2},{"e":4,"s":"EPa","x":10,"l":4.3,"h":5.1},{"e":4,"s":"EPa","x":12,"l":2.0,"h":2.8},{"e":4,"s":"EPa","x":14,"l":1.0,"h":1.6},{"e":4,"s":"EPa","x":16,"l":0.35,"h":0.95},{"e":4,"s":"EPa","x":20,"l":0.4,"h":1.0},{"e":4,"s":"EPa","x":25,"l":0.6,"h":1.2},{"e":4,"s":"EPa","x":30,"l":0.55,"h":1.15},{"e":4,"s":"EPa","x":35,"l":0.45,"h":1.05},{"e":4,"s":"EPa","x":40,"l":0.55,"h":1.15},{"e":4,"s":"EPa","x":45,"l":0.3,"h":0.9},{"e":4,"s":"EPa","x":49,"l":0.25,"h":0.85},
{"e":4,"s":"EPb","x":0,"l":0.2,"h":2.5},{"e":4,"s":"EPb","x":10,"l":-0.25,"h":1.1},{"e":4,"s":"EPb","x":11,"l":0,"h":0},{"e":4,"s":"EPb","x":49,"l":0,"h":0}
]
},
"hconcat": [
{"title": "Env. 1", "width": 190, "height": 159,
 "layer": [
  {"data": {"name": "B"}, "transform": [{"filter": "datum.e==1"}], "mark": {"type": "area", "opacity": 0.2},
   "encoding": {"x": {"field": "x", "type": "quantitative", "scale": {"domain": [-2.45, 51.45], "nice": false}, "axis": {"values": [0,10,20,30,40,50], "title": "generation", "labelOverlap": false}},
    "y": {"field": "l", "type": "quantitative", "scale": {"domain": [-0.83, 8.43], "nice": false, "zero": false}, "axis": {"values": [0,2,4,6,8], "title": "fitness value", "labelOverlap": false}},
    "y2": {"field": "h"},
    "color": {"field": "s", "type": "nominal", "scale": {"domain": ["GAa","EQa","EPa","GAb","EQb","EPb"], "range": ["#1f77b4","#2ca02c","#9467bd","#ff7f0e","#d62728","#8c564b"]}, "legend": {"title": null, "labelExpr": "datum.value=='GAa'?'GA fitness_avg':datum.value=='GAb'?'GA fitness_best':datum.value=='EQa'?'EpiTESTER_eq fitness_avg':datum.value=='EQb'?'EpiTESTER_eq fitness_best':datum.value=='EPa'?'EpiTESTER fitness_avg':'EpiTESTER fitness_best'"}}}},
  {"data": {"name": "L"}, "transform": [{"filter": "datum.e==1"}], "mark": {"type": "line", "strokeWidth": 1.3},
   "encoding": {"x": {"field": "x", "type": "quantitative", "axis": {"values": [0,10,20,30,40,50], "title": "generation", "labelOverlap": false}}, "y": {"field": "y", "type": "quantitative", "axis": {"values": [0,2,4,6,8], "title": "fitness value", "labelOverlap": false}},
    "color": {"field": "s", "type": "nominal", "scale": {"domain": ["GAa","EQa","EPa","GAb","EQb","EPb"], "range": ["#1f77b4","#2ca02c","#9467bd","#ff7f0e","#d62728","#8c564b"]}, "legend": {"title": null, "labelExpr": "datum.value=='GAa'?'GA fitness_avg':datum.value=='GAb'?'GA fitness_best':datum.value=='EQa'?'EpiTESTER_eq fitness_avg':datum.value=='EQb'?'EpiTESTER_eq fitness_best':datum.value=='EPa'?'EpiTESTER fitness_avg':'EpiTESTER fitness_best'"}}}}
 ]},
{"title": "Env. 2", "width": 189, "height": 159,
 "layer": [
  {"data": {"name": "B"}, "transform": [{"filter": "datum.e==2"}], "mark": {"type": "area", "opacity": 0.2},
   "encoding": {"x": {"field": "x", "type": "quantitative", "scale": {"domain": [-2.45, 51.45], "nice": false}, "axis": {"values": [0,10,20,30,40,50], "title": "generation", "labelOverlap": false}},
    "y": {"field": "l", "type": "quantitative", "scale": {"domain": [-0.83, 8.43], "nice": false, "zero": false}, "axis": {"values": [0,2,4,6,8], "title": null, "labels": false}},
    "y2": {"field": "h"},
    "color": {"field": "s", "type": "nominal", "scale": {"domain": ["GAa","EQa","EPa","GAb","EQb","EPb"], "range": ["#1f77b4","#2ca02c","#9467bd","#ff7f0e","#d62728","#8c564b"]}, "legend": {"title": null, "labelExpr": "datum.value=='GAa'?'GA fitness_avg':datum.value=='GAb'?'GA fitness_best':datum.value=='EQa'?'EpiTESTER_eq fitness_avg':datum.value=='EQb'?'EpiTESTER_eq fitness_best':datum.value=='EPa'?'EpiTESTER fitness_avg':'EpiTESTER fitness_best'"}}}},
  {"data": {"name": "L"}, "transform": [{"filter": "datum.e==2"}], "mark": {"type": "line", "strokeWidth": 1.3},
   "encoding": {"x": {"field": "x", "type": "quantitative", "axis": {"values": [0,10,20,30,40,50], "title": "generation", "labelOverlap": false}}, "y": {"field": "y", "type": "quantitative", "axis": {"values": [0,2,4,6,8], "title": null, "labels": false}},
    "color": {"field": "s", "type": "nominal", "scale": {"domain": ["GAa","EQa","EPa","GAb","EQb","EPb"], "range": ["#1f77b4","#2ca02c","#9467bd","#ff7f0e","#d62728","#8c564b"]}, "legend": {"title": null, "labelExpr": "datum.value=='GAa'?'GA fitness_avg':datum.value=='GAb'?'GA fitness_best':datum.value=='EQa'?'EpiTESTER_eq fitness_avg':datum.value=='EQb'?'EpiTESTER_eq fitness_best':datum.value=='EPa'?'EpiTESTER fitness_avg':'EpiTESTER fitness_best'"}}}}
 ]},
{"title": "Env. 3", "width": 190, "height": 159,
 "layer": [
  {"data": {"name": "B"}, "transform": [{"filter": "datum.e==3"}], "mark": {"type": "area", "opacity": 0.2},
   "encoding": {"x": {"field": "x", "type": "quantitative", "scale": {"domain": [-2.45, 51.45], "nice": false}, "axis": {"values": [0,10,20,30,40,50], "title": "generation", "labelOverlap": false}},
    "y": {"field": "l", "type": "quantitative", "scale": {"domain": [-0.83, 8.43], "nice": false, "zero": false}, "axis": {"values": [0,2,4,6,8], "title": null, "labels": false}},
    "y2": {"field": "h"},
    "color": {"field": "s", "type": "nominal", "scale": {"domain": ["GAa","EQa","EPa","GAb","EQb","EPb"], "range": ["#1f77b4","#2ca02c","#9467bd","#ff7f0e","#d62728","#8c564b"]}, "legend": {"title": null, "labelExpr": "datum.value=='GAa'?'GA fitness_avg':datum.value=='GAb'?'GA fitness_best':datum.value=='EQa'?'EpiTESTER_eq fitness_avg':datum.value=='EQb'?'EpiTESTER_eq fitness_best':datum.value=='EPa'?'EpiTESTER fitness_avg':'EpiTESTER fitness_best'"}}}},
  {"data": {"name": "L"}, "transform": [{"filter": "datum.e==3"}], "mark": {"type": "line", "strokeWidth": 1.3},
   "encoding": {"x": {"field": "x", "type": "quantitative", "axis": {"values": [0,10,20,30,40,50], "title": "generation", "labelOverlap": false}}, "y": {"field": "y", "type": "quantitative", "axis": {"values": [0,2,4,6,8], "title": null, "labels": false}},
    "color": {"field": "s", "type": "nominal", "scale": {"domain": ["GAa","EQa","EPa","GAb","EQb","EPb"], "range": ["#1f77b4","#2ca02c","#9467bd","#ff7f0e","#d62728","#8c564b"]}, "legend": {"title": null, "labelExpr": "datum.value=='GAa'?'GA fitness_avg':datum.value=='GAb'?'GA fitness_best':datum.value=='EQa'?'EpiTESTER_eq fitness_avg':datum.value=='EQb'?'EpiTESTER_eq fitness_best':datum.value=='EPa'?'EpiTESTER fitness_avg':'EpiTESTER fitness_best'"}}}}
 ]},
{"title": "Env. 4", "width": 187, "height": 159,
 "layer": [
  {"data": {"name": "B"}, "transform": [{"filter": "datum.e==4"}], "mark": {"type": "area", "opacity": 0.2},
   "encoding": {"x": {"field": "x", "type": "quantitative", "scale": {"domain": [-2.45, 51.45], "nice": false}, "axis": {"values": [0,10,20,30,40,50], "title": "generation", "labelOverlap": false}},
    "y": {"field": "l", "type": "quantitative", "scale": {"domain": [-0.83, 8.43], "nice": false, "zero": false}, "axis": {"values": [0,2,4,6,8], "title": null, "labels": false}},
    "y2": {"field": "h"},
    "color": {"field": "s", "type": "nominal", "scale": {"domain": ["GAa","EQa","EPa","GAb","EQb","EPb"], "range": ["#1f77b4","#2ca02c","#9467bd","#ff7f0e","#d62728","#8c564b"]}, "legend": {"title": null, "labelExpr": "datum.value=='GAa'?'GA fitness_avg':datum.value=='GAb'?'GA fitness_best':datum.value=='EQa'?'EpiTESTER_eq fitness_avg':datum.value=='EQb'?'EpiTESTER_eq fitness_best':datum.value=='EPa'?'EpiTESTER fitness_avg':'EpiTESTER fitness_best'"}}}},
  {"data": {"name": "L"}, "transform": [{"filter": "datum.e==4"}], "mark": {"type": "line", "strokeWidth": 1.3},
   "encoding": {"x": {"field": "x", "type": "quantitative", "axis": {"values": [0,10,20,30,40,50], "title": "generation", "labelOverlap": false}}, "y": {"field": "y", "type": "quantitative", "axis": {"values": [0,2,4,6,8], "title": null, "labels": false}},
    "color": {"field": "s", "type": "nominal", "scale": {"domain": ["GAa","EQa","EPa","GAb","EQb","EPb"], "range": ["#1f77b4","#2ca02c","#9467bd","#ff7f0e","#d62728","#8c564b"]}, "legend": {"title": null, "labelExpr": "datum.value=='GAa'?'GA fitness_avg':datum.value=='GAb'?'GA fitness_best':datum.value=='EQa'?'EpiTESTER_eq fitness_avg':datum.value=='EQb'?'EpiTESTER_eq fitness_best':datum.value=='EPa'?'EpiTESTER fitness_avg':'EpiTESTER fitness_best'"}}}}
 ]}
],
"spacing": 10,
"resolve": {"scale": {"color": "shared"}, "legend": {"color": "shared"}},
"config": {
 "font": "DejaVu Sans",
 "view": {"stroke": "black", "strokeWidth": 0.8},
 "title": {"fontSize": 14, "fontWeight": "normal", "offset": 4, "color": "black"},
 "axis": {"domain": false, "grid": false, "labelOverlap": false, "labelBound": false, "tickColor": "black", "tickSize": 3.5, "tickWidth": 0.8, "labelColor": "black", "titleColor": "black", "labelFontSize": 14, "titleFontSize": 14, "titleFontWeight": "normal", "labelPadding": 2, "titlePadding": 2, "labelFont": "DejaVu Sans", "titleFont": "DejaVu Sans"},
 "legend": {"orient": "none", "legendX": 77, "legendY": 203, "columns": 3, "direction": "horizontal", "symbolType": "stroke", "symbolSize": 600, "symbolStrokeWidth": 1.5, "symbolOpacity": 1, "labelFontSize": 11, "labelFont": "DejaVu Sans", "labelColor": "black", "labelOffset": 10, "columnPadding": 11, "rowPadding": 5, "padding": 4, "strokeColor": "#d0d0d0", "cornerRadius": 3, "fillColor": "white", "labelLimit": 300}
}
}
